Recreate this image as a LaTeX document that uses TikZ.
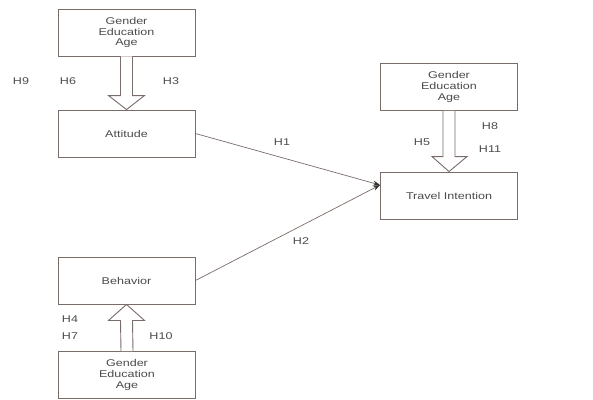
\documentclass[tikz,border=0pt]{standalone}
\usepackage{fontspec}
\setmainfont{Liberation Sans}
\newfontfamily\widesans[FakeStretch=1.28]{Liberation Sans}
\usetikzlibrary{calc,arrows.meta}
\definecolor{edge}{RGB}{122,108,104}
\definecolor{txt}{RGB}{75,75,75}
\tikzset{
  box/.style={draw=edge, line width=0.9pt, fill=white, minimum width=137pt, minimum height=47pt,
    inner sep=0pt, align=center, text=txt, font=\widesans\fontsize{9.8}{10.6}\selectfont},
  lbl/.style={text=txt, font=\widesans\fontsize{9.8}{10}\selectfont, inner sep=0pt},
  hollow/.style={draw=edge, line width=0.9pt, fill=white, line join=miter},
  link/.style={draw=edge, line width=0.7pt, -{Stealth[length=7pt,width=5pt,color=black!80]}}
}
\begin{document}
\begin{tikzpicture}[x=1pt,y=-1pt]
\useasboundingbox (0,0) rectangle (593,399);
% boxes
\node[box] (d1) at (126.5,32.5) {Gender\\Education\\Age};
\node[box] (att) at (126.5,133.5) {Attitude};
\node[box] (beh) at (126.5,280.5) {Behavior};
\node[box] (d3) at (127,375) {Gender\\Education\\Age};
\node[box] (d2) at (449,87) {Gender\\Education\\Age};
\node[box] (ti) at (449,195.5) {Travel Intention};
% hollow arrows
\draw[hollow] ($(d1.south)+(-6,0)$) -- ($(att.north)+(-6,-14)$) -- ($(att.north)+(-18,-14)$)
  -- (att.north) -- ($(att.north)+(18,-14)$) -- ($(att.north)+(6,-14)$) -- ($(d1.south)+(6,0)$);
\draw[hollow] ($(d2.south)+(-6,0)$) -- ($(ti.north)+(-6,-15)$) -- ($(ti.north)+(-17,-15)$)
  -- (ti.north) -- ($(ti.north)+(18,-15)$) -- ($(ti.north)+(6,-15)$) -- ($(d2.south)+(6,0)$);
\draw[hollow] ($(d3.north)+(-6,0)$) -- ($(beh.south)+(-6,16)$) -- ($(beh.south)+(-18,16)$)
  -- (beh.south) -- ($(beh.south)+(18,16)$) -- ($(beh.south)+(6,16)$) -- ($(d3.north)+(6,0)$);
% connectors
\coordinate (tip) at ($(ti.west)+(0,-10.5)$);
\draw[link] (att.east) -- (tip);
\draw[link] (beh.east) -- (tip);
% labels
\node[lbl] (h9) at (21,81) {H9};
\node[lbl] (h6) at (68,81) {H6};
\node[lbl] (h3) at (171,81) {H3};
\node[lbl] (h1) at (282,142) {H1};
\node[lbl] (h2) at (301,241) {H2};
\node[lbl] (h5) at (422,142) {H5};
\node[lbl] (h8) at (490,126) {H8};
\node[lbl] (h11) at (490,149) {H11};
\node[lbl] (h4) at (70,319) {H4};
\node[lbl] (h7) at (70,336) {H7};
\node[lbl] (h10) at (161,336) {H10};
\end{tikzpicture}
\end{document}
